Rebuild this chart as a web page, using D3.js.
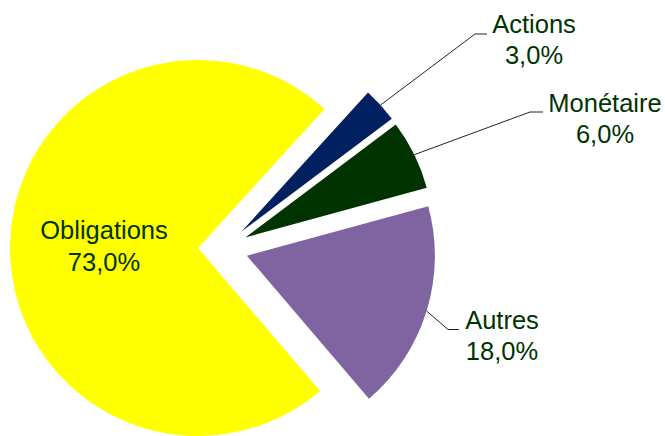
<!DOCTYPE html>
<html>
<head>
<meta charset="utf-8">
<script src="https://cdn.jsdelivr.net/npm/d3@7"></script>
<style>
  body { margin: 0; background: #fff; }
  text { font-family: "Liberation Sans", Arial, sans-serif; }
</style>
</head>
<body>
<div id="chart"></div>
<script>
let width = 665
let height = 436

// data (Excel order, starting at the Actions slice)
let categories = ["Actions", "Monétaire", "Autres", "Obligations"]
let values = [3.0, 6.0, 18.0, 73.0]
let colors = ["#002060", "#003300", "#8064A2", "#FFFF00"]

// pie geometry
let center = { x: 223, y: 248.4 }
let radius = 188
let explode = 25
let startAngle = 42.3 * Math.PI / 180

// where the outside labels go (text centre x, first baseline y) and the leader elbow
let labelLayout = {
  "Actions": { tx: 534, ty: 33, elbow: [475, 34], end: [487, 34] },
  "Monétaire": { tx: 605, ty: 111.5, elbow: [530, 112], end: [543, 112] },
  "Autres": { tx: 502, ty: 328.5, elbow: [448, 329.5], end: [459, 329.5] }
}

let data = categories.map((c, i) => ({ name: c, value: values[i], color: colors[i] }))

let svg = d3.select("#chart").append("svg")
  .attr("width", width)
  .attr("height", height)

let pie = d3.pie()
  .sort(null)
  .value(d => d.value)
  .startAngle(startAngle)
  .endAngle(startAngle + 2 * Math.PI)

let arcs = pie(data)

let arc = d3.arc().innerRadius(0).outerRadius(radius)

//offset of each slice along its bisector
function offset(a) {
  let mid = (a.startAngle + a.endAngle) / 2
  return [center.x + explode * Math.sin(mid), center.y - explode * Math.cos(mid)]
}

let fmt = v => d3.format(".1f")(v).replace(".", ",") + "%"

let slices = svg.selectAll(".slice")
  .data(arcs)
  .enter()
  .append("g")
  .attr("class", "slice")
  .attr("transform", d => "translate(" + offset(d) + ")")

slices.append("path")
  .attr("d", arc)
  .attr("fill", d => d.data.color)

// leader lines + outside labels
arcs.forEach(a => {
  let lay = labelLayout[a.data.name]
  let o = offset(a)
  let mid = (a.startAngle + a.endAngle) / 2
  if (lay) {
    let p0 = [o[0] + radius * Math.sin(mid), o[1] - radius * Math.cos(mid)]
    svg.append("path")
      .attr("d", d3.line()([p0, lay.elbow, lay.end]))
      .attr("fill", "none")
      .attr("stroke", "#222")
      .attr("stroke-width", 1)
    let t = svg.append("text")
      .attr("text-anchor", "middle")
      .attr("fill", "#003300")
      .style("font-size", "25.5px")
    t.append("tspan").attr("x", lay.tx).attr("y", lay.ty).text(a.data.name)
    t.append("tspan").attr("x", lay.tx).attr("y", lay.ty + 31).text(fmt(a.data.value))
  } else {
    // inside label for the big slice
    let r = radius * 0.5
    let px = o[0] + r * Math.sin(mid)
    let py = o[1] - r * Math.cos(mid)
    let t = svg.append("text")
      .attr("text-anchor", "middle")
      .attr("fill", "#003300")
      .style("font-size", "25.5px")
    t.append("tspan").attr("x", px).attr("y", py - 8).text(a.data.name)
    t.append("tspan").attr("x", px).attr("y", py + 24).text(fmt(a.data.value))
  }
})
</script>
</body>
</html>
